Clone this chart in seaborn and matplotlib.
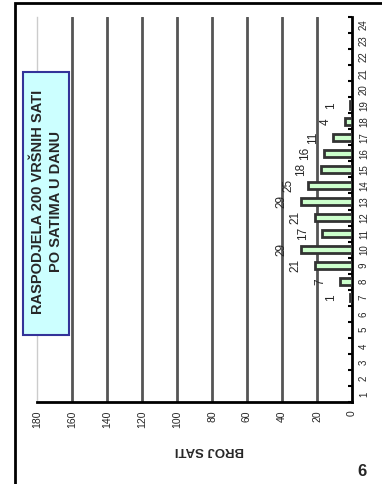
import pandas as pd
import matplotlib
matplotlib.use('Agg')
import matplotlib.pyplot as plt
import seaborn as sns
from matplotlib.patches import Rectangle

# data: peak hours per hour of the day
hours = [7, 8, 9, 10, 11, 12, 13, 14, 15, 16, 17, 18, 19]
counts = [1, 7, 21, 29, 17, 21, 29, 25, 18, 16, 11, 4, 1]
all_hours = [str(h) for h in range(1, 25)]
value_ticks = [0, 20, 40, 60, 80, 100, 120, 140, 160, 180]
title_text = 'RASPODJELA 200 VRŠNIH SATI\nPO SATIMA U DANU'
axis_label = 'BROJ SATI'
page_no = '6'

df = pd.DataFrame({'sat': [str(h) for h in hours], 'broj': counts})

sns.set_theme(style='white')
plt.rcParams['font.family'] = ['Liberation Sans', 'DejaVu Sans']

fig = plt.figure(figsize=(3.82, 4.84), dpi=100)
W, H = 382, 484
ax = fig.add_axes([37 / W, 1 - 402 / H, (352 - 37) / W, (402 - 17) / H])

sns.barplot(data=df, x='broj', y='sat', order=all_hours, orient='h',
            color='#CCFFCC', saturation=1, edgecolor='#333333', linewidth=2,
            width=0.47, errorbar=None, ax=ax, zorder=3)

# rotated layout: values run right-to-left, hours bottom-to-top
ax.set_xlim(180, 0)
ax.set_ylim(-0.5, 23.5)

for v in value_ticks[1:-1]:
    ax.axvline(v, color='#555555', lw=2, zorder=1)

ax.set_xticks(value_ticks)
ax.set_xticklabels([str(v) for v in value_ticks], rotation=90, fontsize=7.5)
ax.tick_params(axis='x', direction='out', length=3, width=1.5, color='black', pad=3)

ax.yaxis.tick_right()
ax.set_yticks(range(24))
ax.set_yticklabels(all_hours, rotation=90, fontsize=7, va='center')
ax.set_yticks([i + 0.5 for i in range(-1, 24)], minor=True)
ax.tick_params(axis='y', which='major', length=0, pad=5)
ax.tick_params(axis='y', which='minor', direction='in', length=3, width=1.5, color='black', right=True, left=False)

ax.set_xlabel('')
ax.set_ylabel('')

ax.spines['top'].set_visible(False)
ax.spines['left'].set_color('#cccccc')
ax.spines['left'].set_linewidth(1)
ax.spines['right'].set_color('black')
ax.spines['right'].set_linewidth(2)
ax.spines['bottom'].set_color('black')
ax.spines['bottom'].set_linewidth(2)

# data labels
for h, c in zip(hours, counts):
    ax.annotate(str(c), xy=(c, all_hours.index(str(h))), xytext=(-14, 0),
                textcoords='offset points', rotation=90, ha='center', va='center',
                fontsize=8.5, zorder=4)

fig.text(209 / W, 1 - 450 / H, axis_label, rotation=180, ha='center', va='center',
         fontsize=9.5, fontweight='bold')
fig.text(362 / W, 1 - 471 / H, page_no, ha='center', va='center',
         fontsize=12, fontweight='bold')

# title box
fig.patches.append(Rectangle((23 / W, 1 - 335 / H), 46 / W, 263 / H,
                             transform=fig.transFigure, facecolor='#CCFFFF',
                             edgecolor='#333399', lw=1.5, zorder=5))
fig.text(47 / W, 1 - 202 / H, title_text, rotation=90, ha='center', va='center',
         multialignment='center', fontsize=10.5, fontweight='bold', zorder=6,
         linespacing=1.3)

# page frame
fig.patches.append(Rectangle((15 / W, -0.1), 1.2, 1.1 - 3 / H,
                             transform=fig.transFigure, fill=False,
                             edgecolor='black', lw=2, zorder=6))

fig.savefig('out.png', dpi=100)
